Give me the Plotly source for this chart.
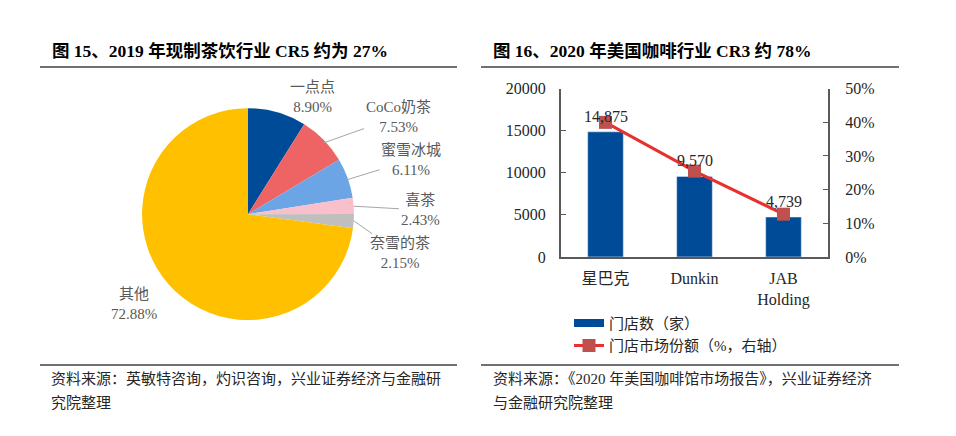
import math
import plotly.graph_objects as go

# left: 2019 tea drink market share
tea_names = ["一点点", "CoCo奶茶", "蜜雪冰城", "喜茶", "奈雪的茶", "其他"]
tea_share = [8.90, 7.53, 6.11, 2.43, 2.15, 72.88]
tea_colors = ["#004B97", "#EE6363", "#6CA5E5", "#F9BFCB", "#BFBFBF", "#FFC000"]

# right: 2020 US coffee stores
cafe_names = ["星巴克", "Dunkin", "JAB<br>Holding"]
cafe_stores = [14875, 9570, 4739]
cafe_share = [40.0, 25.5, 12.7]

W, H = 956, 436
SERIF = "Liberation Serif, Times New Roman, Noto Sans CJK SC"


def px(x):
    return x / W


def py(y):
    return 1 - y / H


# pie placement (pixels)
cx, cy, r = 248, 214.5, 106
rd = r * 1.04  # plotly draws the pie a little inside its domain
# label centres (pixels), flag = draw leader line
lab_pos = [(312, 93, False), (398, 114, True), (411, 159, True),
           (420, 210, True), (400, 254, True), (134, 308, False)]

fig = go.Figure()

fig.add_trace(go.Pie(
    labels=tea_names, values=tea_share, sort=False, direction="clockwise",
    marker=dict(colors=tea_colors, line=dict(width=0)),
    textinfo="none", hoverinfo="label+value", showlegend=False,
    domain=dict(x=[px(cx - rd), px(cx + rd)], y=[py(cy + rd), py(cy - rd)]),
))

fig.add_trace(go.Bar(
    x=cafe_names, y=cafe_stores, width=0.4, marker_color="#004B97",
    showlegend=False, xaxis="x", yaxis="y",
))
# legend entry for the bars, drawn as a thick line swatch
fig.add_trace(go.Scatter(
    x=[None], y=[None], mode="lines", line=dict(color="#004B97", width=8),
    name="门店数（家）", xaxis="x", yaxis="y",
))
fig.add_trace(go.Scatter(
    x=cafe_names, y=cafe_share, mode="lines+markers",
    line=dict(color="#E8312F", width=3),
    marker=dict(symbol="square", size=13, color="#C0504D"),
    name="门店市场份额（%，右轴）", xaxis="x", yaxis="y2", cliponaxis=False,
))

annots = []
# bar value labels
for name, v in zip(cafe_names, cafe_stores):
    annots.append(dict(x=name, y=v, xref="x", yref="y", text=f"{v:,}",
                       showarrow=False, xanchor="center", yanchor="bottom", yshift=5,
                       font=dict(family=SERIF, size=16, color="#262626")))

cum = 0
for name, v, (lx, ly, arrow) in zip(tea_names, tea_share, lab_pos):
    mid = (cum + v / 2) / sum(tea_share)
    cum += v
    ang = math.radians(90 - 360 * mid)
    hx, hy = cx + r * math.cos(ang), cy - r * math.sin(ang)
    txt = f"{name}<br>{v:.2f}%"
    lfont = dict(family=SERIF, size=15, color="#595959")
    if arrow:
        annots.append(dict(x=px(hx), y=py(hy), xref="paper", yref="paper",
                           ax=lx - hx, ay=ly - hy, axref="pixel", ayref="pixel",
                           text=txt, showarrow=True, arrowhead=0, arrowwidth=1,
                           arrowcolor="#A6A6A6", standoff=0, font=lfont))
    else:
        annots.append(dict(x=px(lx), y=py(ly), xref="paper", yref="paper",
                           xanchor="center", yanchor="middle",
                           text=txt, showarrow=False, font=lfont))

titles = [
    (50, 45, "<b>图 15、2019 年现制茶饮行业 CR5 约为 27%</b>"),
    (491, 45, "<b>图 16、2020 年美国咖啡行业 CR3 约 78%</b>"),
]
for x, y, t in titles:
    annots.append(dict(x=px(x), y=py(y), xref="paper", yref="paper", text=t,
                       showarrow=False, xanchor="left", yanchor="middle",
                       font=dict(family=SERIF, size=17.5, color="#000000")))

notes = [
    (49, 386, "资料来源：英敏特咨询，灼识咨询，兴业证券经济与金融研"),
    (49, 410, "究院整理"),
    (491, 386, "资料来源：《2020 年美国咖啡馆市场报告》，兴业证券经济"),
    (491, 410, "与金融研究院整理"),
]
for x, y, t in notes:
    annots.append(dict(x=px(x), y=py(y), xref="paper", yref="paper", text=t,
                       showarrow=False, xanchor="left", yanchor="middle",
                       font=dict(family=SERIF, size=15, color="#262626")))

shapes = []
for x0, x1 in [(40, 457), (481, 899)]:
    for y in (61.5, 371.5):
        shapes.append(dict(type="line", xref="paper", yref="paper",
                           x0=px(x0), x1=px(x1), y0=py(y), y1=py(y),
                           line=dict(color="#404040", width=1.5)))

axfont = dict(family=SERIF, size=16, color="#262626")
fig.update_layout(
    width=W, height=H, margin=dict(l=0, r=0, t=0, b=0),
    paper_bgcolor="white", plot_bgcolor="white",
    xaxis=dict(domain=[px(561), px(828)], range=[-0.5, 2.5], showline=True,
               linecolor="#595959", linewidth=2, ticks="", tickfont=axfont,
               showgrid=False, zeroline=False, anchor="y", ticklabelstandoff=6),
    yaxis=dict(domain=[py(259), py(84)], range=[0, 20000], dtick=5000,
               tickformat="d", showline=True, linecolor="#595959", linewidth=2,
               ticks="inside", ticklen=5, tickcolor="#595959", tickfont=axfont,
               showgrid=False, zeroline=False, anchor="x", ticklabelstandoff=10),
    yaxis2=dict(overlaying="y", side="right", range=[0, 50], dtick=10,
                ticksuffix="%", showline=True, linecolor="#595959", linewidth=2,
                ticks="inside", ticklen=5, tickcolor="#595959", tickfont=axfont,
                showgrid=False, zeroline=False, anchor="x", ticklabelstandoff=12),
    legend=dict(x=px(569), y=py(311), xanchor="left", yanchor="top",
                font=dict(family=SERIF, size=15, color="#262626"),
                tracegroupgap=0, bgcolor="rgba(0,0,0,0)"),
    annotations=annots, shapes=shapes,
)

# drop the browser's default body margin so the figure sits at 0,0
fig.write_html("out.html", config={"displayModeBar": False}, post_script=(
    "document.documentElement.style.margin='0';"
    "document.body.style.margin='0';"
    "document.body.style.overflow='hidden';"
))
